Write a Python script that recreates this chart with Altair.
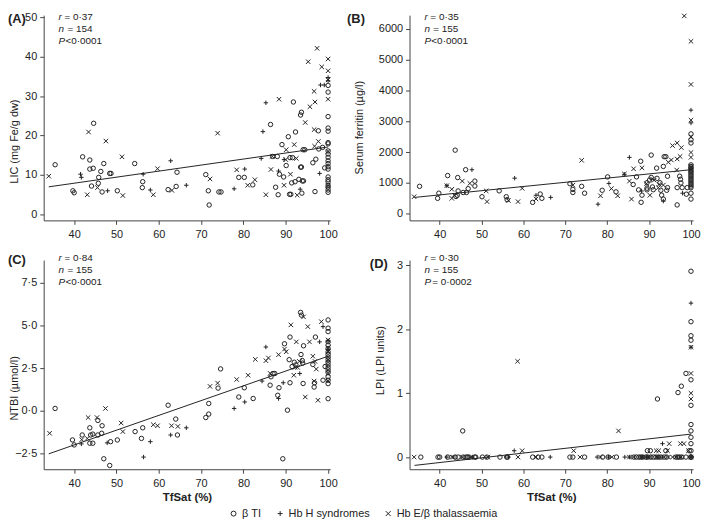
import altair as alt
import pandas as pd

FONT = "Liberation Sans"
INK = "#222222"
AXIS = "#444444"

GROUPS = ["β TI", "Hb H syndromes", "Hb E/β thalassaemia"]
SHAPES = ["circle", "M-1,0H1M0,-1V1", "M-1,-1L1,1M-1,1L1,-1"]
XTICKS = [40, 50, 60, 70, 80, 90, 100]
XDOMAIN = [32.8, 100.5]
LINE_X = [34.0, 100.0]

# ---------------- Panel A : LIC ----------------
A_ti_x = [35.5, 39.7, 40.0, 42.0, 43.7, 43.7, 44.5, 44.6, 44.1, 45.8, 45.7, 46.3, 47.0, 46.6,
          48.4, 48.7, 50.2, 54.3, 56.1, 56.2, 62.2, 64.3, 64.1, 71.1, 71.7, 71.9, 74.2, 74.7,
          78.9, 80.2, 82.2, 86.4, 86.9, 88.0, 87.6, 88.2, 88.5, 89.1, 89.5, 90.1, 90.6, 91.8,
          91.0, 91.6, 92.3, 90.9, 91.2, 92.2, 91.4, 93.1, 93.5, 93.7, 93.5, 93.7, 93.9, 94.2,
          93.8, 94.1, 94.5, 96.4, 97.1, 96.9, 97.7, 97.8, 98.7, 99.2] + [100] * 21
A_ti_y = [12.6, 6.0, 5.5, 14.6, 13.8, 11.5, 11.7, 23.1, 7.2, 9.4, 7.9, 10.9, 12.9, 5.7,
          10.4, 10.4, 6.0, 12.9, 6.8, 8.3, 6.3, 10.7, 7.1, 10.1, 6.0, 2.4, 5.7, 5.7,
          9.4, 9.4, 7.5, 22.8, 14.7, 14.7, 6.9, 5.0, 10.2, 17.7, 9.5, 12.4, 19.7, 28.5,
          14.4, 14.4, 20.9, 5.1, 5.1, 8.3, 8.0, 8.9, 25.2, 25.9, 12.0, 12.0, 8.5, 8.5,
          5.4, 16.4, 16.4, 13.1, 14.0, 5.8, 21.2, 16.6, 17.0, 11.8,
          32.7, 31.0, 24.8, 21.9, 21.1, 18.2, 17.9, 16.1, 15.3, 14.5, 13.6, 12.9, 12.1, 11.5,
          9.5, 8.8, 8.3, 7.4, 6.9, 6.2, 5.6]
A_hh_x = [41.5, 41.7, 47.9, 56.3, 58.0, 62.8, 66.5, 77.8, 80.3, 85.3, 84.6, 84.2, 88.3, 89.6,
          93.4, 98.0, 98.2, 99.1, 100, 100]
A_hh_y = [10.2, 9.4, 6.0, 10.2, 6.2, 13.6, 7.4, 6.5, 11.5, 28.3, 21.0, 14.2, 11.0, 13.9,
          6.4, 10.4, 32.8, 32.8, 34.7, 33.9]
A_he_x = [34.0, 43.4, 43.1, 47.5, 45.5, 51.3, 51.5, 58.7, 59.7, 63.1, 73.9, 72.1, 78.4, 81.0,
          82.7, 85.3, 86.5, 88.4, 86.8, 90.1, 90.0, 89.6, 91.1, 92.0, 92.5, 92.7, 94.6, 95.3,
          95.7, 96.7, 96.9, 96.7, 97.4, 97.7, 96.8, 98.5, 100, 100, 100, 100, 100, 100]
A_he_y = [9.7, 20.9, 5.0, 18.6, 6.8, 14.6, 4.8, 5.0, 11.6, 6.1, 20.6, 9.0, 11.3, 7.4,
          8.8, 5.0, 11.4, 29.2, 14.7, 16.4, 13.9, 7.4, 10.2, 17.7, 14.2, 4.9, 23.3, 38.7,
          27.3, 31.2, 28.5, 21.5, 42.1, 18.5, 17.3, 37.4, 39.4, 36.4, 34.1, 29.2, 16.0, 7.3]
A_line = [7.0, 17.1]

# ---------------- Panel B : serum ferritin ----------------
B_ti_x = [35.2, 39.5, 39.8, 41.9, 43.7, 43.9, 44.2, 44.4, 44.3, 45.6, 46.4, 46.2, 46.8, 48.4,
          48.4, 50.1, 54.2, 55.9, 56.1, 62.2, 64.0, 64.4, 71.1, 71.8, 71.8, 73.9, 74.6, 78.8,
          80.1, 82.1, 86.2, 88.0, 87.5, 88.3, 88.1, 87.0, 90.5, 89.5, 90.1, 89.5, 89.5, 90.5,
          91.9, 90.8, 91.0, 91.8, 92.6, 92.8, 93.0, 93.4, 93.4, 93.6, 94.0, 94.2, 94.4, 94.4,
          96.7, 96.7, 97.3, 97.5, 97.6, 97.9, 98.9, 99.1] + [100] * 20
B_ti_y = [890, 500, 667, 1240, 2065, 560, 600, 740, 1175, 690, 690, 1430, 815, 1060,
          900, 552, 743, 552, 457, 370, 640, 500, 975, 790, 690, 890, 667, 762,
          1196, 710, 950, 1705, 775, 603, 371, 1197, 1905, 1006, 1092, 830, 775, 1180,
          1150, 870, 780, 1482, 1006, 762, 603, 476, 1536, 1853, 1853, 762, 848, 1218,
          848, 286, 1219, 1120, 1000, 848, 635, 848,
          2594, 2403, 2298, 1587, 1534, 1481, 1429, 1376, 1323, 1270, 1217, 1164, 1111, 1058,
          1005, 952, 899, 846, 667, 476]
B_hh_x = [41.7, 47.7, 57.9, 63.0, 66.5, 77.8, 80.4, 84.1, 85.3, 88.2, 93.4, 98.0, 100, 100]
B_hh_y = [910, 1430, 1155, 600, 530, 310, 985, 1280, 1830, 740, 410, 667, 3365, 2950]
B_he_x = [33.9, 41.7, 42.9, 42.9, 43.5, 45.4, 47.2, 51.1, 51.3, 56.4, 58.7, 59.7, 63.0, 71.8,
          73.9, 78.4, 81.0, 82.5, 84.1, 85.3, 85.8, 86.3, 88.3, 89.4, 90.2, 90.8, 91.2, 92.2,
          92.4, 93.4, 94.6, 95.3, 95.6, 96.7, 97.7, 96.7, 97.4, 96.6, 98.4,
          100, 100, 100, 100, 100, 100, 100, 100]
B_he_y = [552, 910, 795, 500, 600, 1060, 985, 743, 393, 430, 393, 825, 480, 930,
          1735, 583, 815, 583, 1290, 1060, 476, 1460, 1490, 975, 600, 1130, 1090, 848,
          952, 931, 1673, 1746, 2213, 2298, 2149, 1778, 1860, 1419, 6425,
          5600, 4200, 3040, 2489, 1990, 1832, 1530, 1430]
B_line = [530, 1430]

# ---------------- Panel C : NTBI ----------------
C_ti_x = [35.5, 39.6, 40.0, 41.9, 43.7, 43.9, 44.4, 43.7, 44.4, 45.6, 45.6, 46.5, 46.6, 47.0,
          48.6, 48.4, 50.2, 54.4, 56.2, 55.9, 62.2, 64.0, 64.4, 71.1, 71.8, 71.8, 74.0, 74.6,
          78.9, 80.2, 82.3, 86.5, 87.0, 87.4, 86.3, 88.4, 88.1, 89.7, 90.4, 89.3, 91.0, 90.8,
          91.5, 92.0, 92.4, 91.0, 93.5, 93.7, 93.6, 93.9, 94.0, 94.2, 94.1, 97.0, 96.4, 96.8,
          96.7, 98.8, 99.3] + [100] * 19
C_ti_y = [0.15, -1.69, -1.98, -1.4, -0.98, -1.4, -1.35, -1.88, -1.88, -0.55, -1.4, -1.3, -0.86, -2.79,
          -1.79, -3.18, -1.69, -1.2, -0.98, -1.6, 0.34, -0.47, -1.4, -0.38, -0.18, 0.44, 1.34, 2.46,
          0.82, 1.36, 0.73, 2.0, 2.19, 2.19, 1.51, 1.36, 0.92, 3.93, 0.05, -2.79, 4.32, 3.0,
          2.6, 2.85, 2.7, 1.65, 5.76, 5.6, 3.3, 2.95, 2.8, 3.81, 1.61, 4.32, 2.72, 1.65,
          1.4, 1.8, 2.6,
          5.32, 4.84, 4.64, 4.05, 3.85, 3.65, 3.45, 3.3, 3.15, 3.0, 2.85, 2.7, 2.55, 2.4,
          2.25, 2.0, 1.8, 1.6, 0.72]
C_hh_x = [41.7, 47.8, 56.4, 58.0, 62.8, 66.5, 77.8, 80.3, 84.4, 85.3, 88.3, 89.4, 93.3, 98.0,
          98.8, 100, 100]
C_hh_y = [-1.92, -1.86, -2.69, -1.79, -1.4, -0.98, 0.15, 0.53, 1.75, 3.74, 0.73, 1.65, 2.19, 4.04,
          4.93, 4.1, 3.6]
C_he_x = [34.2, 41.8, 43.3, 43.1, 45.4, 47.4, 51.1, 51.5, 58.7, 59.7, 63.0, 64.5, 72.1, 73.9,
          78.4, 81.1, 82.8, 85.3, 85.9, 86.3, 88.3, 89.7, 90.1, 91.2, 91.9, 92.5, 92.2, 92.8,
          93.2, 94.2, 95.2, 95.6, 96.4, 96.9, 97.2, 96.7, 94.6, 97.6, 98.4,
          100, 100, 100, 100, 100, 100]
C_he_y = [-1.3, -1.67, -0.38, -1.6, -0.38, 0.15, -0.7, -1.2, -0.8, -0.86, -0.86, -0.9, 1.44, 1.63,
          1.84, 2.09, 3.02, 2.94, 3.1, 2.2, 3.29, 3.62, 3.46, 5.03, 2.09, 4.04, 2.55, 2.55,
          2.9, 5.5, 4.93, 4.04, 3.2, 2.9, 2.45, 1.75, 0.82, 0.63, 5.22,
          4.15, 3.7, 3.5, 3.0, 2.2, 1.75]
C_line = [-2.5, 3.2]

# ---------------- Panel D : LPI ----------------
D_ti_x = [35.5, 39.6, 40.0, 41.9, 43.7, 44.4, 45.6, 46.3, 46.6, 47.0, 48.4, 48.6, 50.2, 51.3,
          54.4, 56.0, 56.2, 62.2, 63.5, 64.4, 71.1, 71.8, 74.6, 78.9, 80.2, 82.2, 86.4, 87.0,
          87.6, 88.1, 88.5, 89.3, 89.7, 90.4, 91.0, 91.6, 92.2, 92.8, 93.6, 94.2, 96.4, 96.8,
          97.3, 97.8, 98.8, 100, 100, 100,
          45.5, 92.0, 96.9, 97.7, 98.8, 89.6, 90.3, 94.0, 99.6] + [100] * 11
D_ti_y = [0] * 48 + [0.41, 0.91, 1.01, 1.11, 1.31, 0.10, 0.10, 0.10, 0.10,
                     2.91, 2.12, 1.90, 1.83, 1.21, 0.81, 0.51, 0.41, 0.31, 0.21, 0.10]
D_hh_x = [41.7, 47.8, 56.4, 66.4, 77.6, 80.3, 84.2, 85.3, 88.3, 89.4, 93.3, 100,
          57.8, 93.2, 100, 100]
D_hh_y = [0] * 12 + [0.10, 0.21, 2.41, 1.72]
D_he_x = [33.9, 43.0, 43.3, 45.4, 47.4, 51.5, 58.7, 63.0, 73.5, 78.4, 81.1, 85.3, 86.3, 88.3,
          89.7, 90.1, 91.9, 92.5, 94.6, 95.6, 96.4, 97.6, 100,
          58.6, 59.7, 72.0, 82.7, 91.7, 92.3, 94.4, 94.8, 97.5, 98.3, 99.4, 100, 100, 100, 100]
D_he_y = [0] * 23 + [1.50, 0.10, 0.10, 0.41, 0.10, 0.10, 0.10, 0.21, 0.21, 0.21, 0.10,
                     1.72, 1.31, 1.0, 0.91]
D_line = [-0.13, 0.36]


def frame(ti_x, ti_y, hh_x, hh_y, he_x, he_y):
    rows = []
    for xs, ys, g in ((ti_x, ti_y, GROUPS[0]), (hh_x, hh_y, GROUPS[1]), (he_x, he_y, GROUPS[2])):
        rows += [{"tfsat": a, "value": b, "group": g} for a, b in zip(xs, ys)]
    return pd.DataFrame(rows)


LEGEND = alt.Legend(orient="none", legendX=186, legendY=497, direction="horizontal",
                    title=None, symbolSize=25, symbolStrokeWidth=1, symbolStrokeColor=INK,
                    symbolFillColor="transparent", labelFontSize=11, labelFont=FONT,
                    labelColor=INK, columnPadding=13, labelOffset=3, padding=0)


def one_text(txt, x, y, size=10, style="normal", weight="normal", align="left"):
    return alt.Chart(alt.Data(values=[{}])).mark_text(
        text=txt, fontSize=size, font=FONT, fontStyle=style, fontWeight=weight,
        color=INK, align=align, baseline="middle"
    ).encode(x=alt.value(x), y=alt.value(y))


def panel(df, line_y, ydomain, yticks, ytitle, title_x, title_y, letter, letter_x, letter_y,
          stats, stats_y, height, width, xtitle=None, label_expr=None, yformat=None):
    xaxis_kw = dict(values=XTICKS, labelFlush=False, tickSize=4, labelPadding=4,
                    labelFontSize=11, labelFont=FONT, labelColor=INK, domainColor=AXIS,
                    tickColor=AXIS, grid=False)
    if xtitle:
        xaxis = alt.Axis(title=xtitle, titleFont=FONT, titleFontSize=11.5, titleFontWeight="bold",
                         titleColor=INK, titlePadding=4, **xaxis_kw)
    else:
        xaxis = alt.Axis(title=None, **xaxis_kw)
    yaxis_kw = dict(values=yticks, labelFlush=False, tickSize=4, labelPadding=3,
                    labelFontSize=11, labelFont=FONT, labelColor=INK, domainColor=AXIS,
                    tickColor=AXIS, grid=False, title=ytitle, titleFont=FONT,
                    titleFontSize=11, titleFontWeight="normal", titleColor=INK,
                    titleX=title_x, titleY=title_y)
    if label_expr:
        yaxis_kw["labelExpr"] = label_expr
    if yformat:
        yaxis_kw["format"] = yformat
    yaxis = alt.Axis(**yaxis_kw)
    x = alt.X("tfsat:Q", scale=alt.Scale(domain=XDOMAIN, nice=False, zero=False), axis=xaxis)
    y = alt.Y("value:Q", scale=alt.Scale(domain=ydomain, nice=False, zero=False), axis=yaxis)

    pts = alt.Chart(df).mark_point(filled=False, stroke=INK, strokeWidth=1, size=20, opacity=1).encode(
        x=x, y=y,
        shape=alt.Shape("group:N", scale=alt.Scale(domain=GROUPS, range=SHAPES), legend=LEGEND),
    )
    line = alt.Chart(pd.DataFrame({"tfsat": LINE_X, "value": line_y})).mark_line(
        color=INK, strokeWidth=1).encode(x=x, y=y)

    layers = [pts, line, one_text(letter, letter_x, letter_y, size=13, weight="bold")]
    for i, (it, rest, rx) in enumerate(stats):
        yy = stats_y + 12 * i
        layers.append(one_text(it, 15, yy, style="italic"))
        layers.append(one_text(rest, rx, yy))
    return alt.layer(*layers).properties(width=width, height=height)


W = 289
A = panel(frame(A_ti_x, A_ti_y, A_hh_x, A_hh_y, A_he_x, A_he_y), A_line, [-1.5, 50.5],
          [0, 10, 20, 30, 40, 50], "LIC (mg Fe/g dw)", -24, 127, "(A)", -36, 4,
          [("r", "= 0·37", 21), ("n", "= 154", 24), ("P", "<0·0001", 22)], 2, 207, W)
B = panel(frame(B_ti_x, B_ti_y, B_hh_x, B_hh_y, B_he_x, B_he_y), B_line, [-216, 6450],
          [0, 1000, 2000, 3000, 4000, 5000, 6000], "Serum ferritin (µg/l)", -45, 113, "(B)", -63, 4,
          [("r", "= 0·35", 21), ("n", "= 155", 24), ("P", "<0·0001", 22)], 2, 207, W - 3,
          yformat="d")
C = panel(frame(C_ti_x, C_ti_y, C_hh_x, C_hh_y, C_he_x, C_he_y), C_line, [-3.40, 8.82],
          [-2.5, 0, 2.5, 5.0, 7.5], "NTBI (µmol/l)", -24, 129, "(C)", -36, 0,
          [("r", "= 0·84", 21), ("n", "= 155", 24), ("P", "<0·0001", 22)], -2, 211, W,
          xtitle="TfSat (%)", label_expr="replace(format(datum.value, '.1f'), '.', '·')")
D = panel(frame(D_ti_x, D_ti_y, D_hh_x, D_hh_y, D_he_x, D_he_y), D_line, [-0.19, 3.085],
          [0, 1, 2, 3], "LPI (LPI units)", -24, 101, "(D)", -40, 4,
          [("r", "= 0·30", 21), ("n", "= 155", 24), ("P", "= 0·0002", 23)], -2, 211, W - 3,
          xtitle="TfSat (%)")

chart = alt.concat(A, B, C, D, columns=2, spacing={"row": 40, "column": 80},
                   bounds="flush", align="each").properties(
    padding=0
).configure_view(stroke=None).configure_legend(padding=0)

chart.save("out.html", embed_options={"renderer": "svg", "actions": False})
